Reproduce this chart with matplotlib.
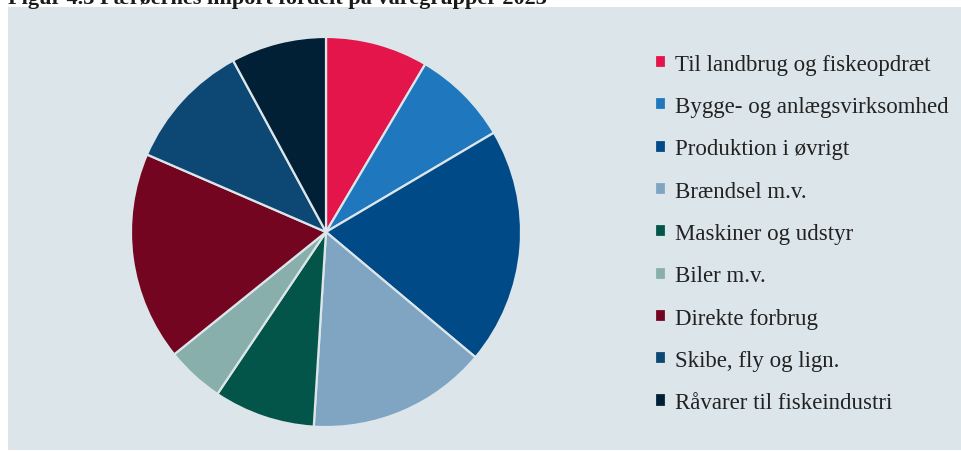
import matplotlib.pyplot as plt

# Import fordelt på varegrupper (andele aflæst af figuren, %)
categories = ['Til landbrug og fiskeopdræt', 'Bygge- og anlægsvirksomhed',
              'Produktion i øvrigt', 'Brændsel m.v.', 'Maskiner og udstyr',
              'Biler m.v.', 'Direkte forbrug', 'Skibe, fly og lign.',
              'Råvarer til fiskeindustri']
shares = [8.5, 8.0, 19.6, 14.9, 8.4, 4.8, 17.3, 10.6, 7.9]
colors = ['#E3154A', '#1F78BE', '#004A87', '#7FA5C3', '#03554A',
          '#88AFAC', '#730520', '#0D4874', '#012036']

bg = '#DCE6EA'
W, H = 961, 452

fig = plt.figure(figsize=(W / 100, H / 100), dpi=100, facecolor='white')

# background panel
bgax = fig.add_axes([8 / W, 1 / H, 1 - 8 / W, 1 - 9 / H], zorder=-1)
bgax.set_facecolor(bg)
bgax.set_xticks([])
bgax.set_yticks([])
for s in bgax.spines.values():
    s.set_visible(False)

# cut-off title at the top
fig.text(8 / W, 1 - 4 / H, 'Figur 4.3 Færøernes import fordelt på varegrupper 2023',
         fontsize=16, fontweight='bold', family='Liberation Serif',
         va='baseline', ha='left', color='#1a1a1a')

cx, cy, r = 326, 233, 197
ax = fig.add_axes([(cx - r) / W, (H - cy - r) / H, 2 * r / W, 2 * r / H], zorder=1)
ax.set_facecolor('none')
wedges, _ = ax.pie(shares, colors=colors, startangle=90, counterclock=False,
                   radius=1, wedgeprops=dict(edgecolor=bg, linewidth=1.6))
ax.set_xlim(-1.01, 1.01)
ax.set_ylim(-1.01, 1.01)
ax.set_aspect('equal')
ax.axis('off')

leg = fig.legend(wedges, categories, loc='upper left',
                 bbox_to_anchor=(634 / W, 1 - 34 / H), frameon=False,
                 prop={'family': 'Liberation Serif', 'size': 16.5},
                 handlelength=0.5, handleheight=0.5, handletextpad=0.4,
                 labelspacing=0.93, labelcolor='#222222')
leg.set_zorder(2)

fig.savefig('out.png', dpi=100, facecolor='white')
